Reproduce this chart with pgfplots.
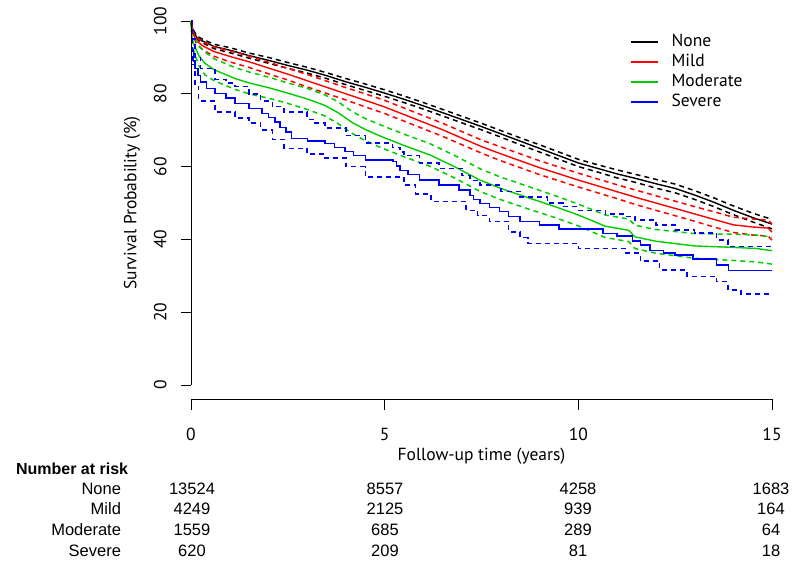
\documentclass[border=0pt]{standalone}
\usepackage{pgfplots}
\pgfplotsset{compat=1.18}
\usepackage{fontspec}
\setmainfont{PT Sans}
\newfontfamily\tabfont{Liberation Sans}
\definecolor{rred}{HTML}{FF0000}
\definecolor{rgreen}{HTML}{00CD00}
\definecolor{rblue}{HTML}{0000FF}

\begin{document}
\fontsize{17.5bp}{21bp}\selectfont
\begin{tikzpicture}
\path[use as bounding box] (0,0) rectangle (800bp,566bp);
\begin{axis}[
  at={(191bp,166.5bp)}, anchor=south west,
  scale only axis, width=581bp, height=393bp,
  xmin=0, xmax=15, ymin=-4, ymax=104,
  clip=false,
  axis line style={draw=none},
  tick pos=left, tick align=outside,
  major tick length=10.5bp,
  tick style={black, line width=0.8bp},
  xtick={0,5,10,15}, ytick={0,20,...,100},
  /pgf/number format/assume math mode=true,
  xticklabel shift=12bp,
  yticklabel style={rotate=90, anchor=south},
  yticklabel shift=8bp,
  xlabel={Follow-up time (years)},
  ylabel={Survival Probability (\%)},
  xlabel style={at={(axis description cs:0.5,-0.145)}, anchor=center},
  ylabel style={at={(axis description cs:-0.1015,0.5)}, anchor=center},
  legend cell align=left,
  legend style={draw=none, fill=none, inner sep=0pt,
    at={(axis description cs:0.7556,0.934)}, anchor=north west,
    nodes={inner sep=2bp, text height=12bp, text depth=3bp},
    row sep=1bp,
    /tikz/every odd column/.append style={column sep=11bp}},
  legend image code/.code={\draw[#1] (0bp,0bp) -- (27bp,0bp);},
  every axis plot/.append style={line width=1.4bp},
  ci/.style={dash pattern=on 5bp off 4bp, line width=1.5bp},
]
\addlegendimage{black, line width=1.4bp}
\addlegendentry{None}
\addlegendimage{rred, line width=1.4bp}
\addlegendentry{Mild}
\addlegendimage{rgreen, line width=1.4bp}
\addlegendentry{Moderate}
\addlegendimage{rblue, line width=1.4bp}
\addlegendentry{Severe}

% None
\addplot[black, forget plot] coordinates {
(0,100)(0.05,97.5)(0.15,95.5)(0.3,94.5)(0.6,93)(1,92)(1.5,90.5)(2,89.2)(2.5,87.8)(3,86.5)(3.5,85)(4,83.3)(4.5,81.8)(5,80.2)(5.5,78.5)(6,76.7)(6.5,74.8)(7,72.9)(7.5,71)(8,69)(8.5,67)(9,65)(9.5,63)(10,61)(10.5,59.5)(11,58)(11.5,56.7)(12,55.3)(12.5,54)(13,52.2)(13.5,50.2)(14,48)(14.5,46)(15,44.2)};
\addplot[black, ci, forget plot] coordinates {
(0,100)(0.05,97.8)(0.15,95.9)(0.3,95)(0.6,93.6)(1,92.7)(1.5,91.2)(2,90)(2.5,88.6)(3,87.3)(3.5,85.8)(4,84.2)(4.5,82.7)(5,81.1)(5.5,79.4)(6,77.6)(6.5,75.7)(7,73.8)(7.5,71.9)(8,69.9)(8.5,67.9)(9,66)(9.5,64)(10,62)(10.5,60.5)(11,59.1)(11.5,57.8)(12,56.5)(12.5,55.2)(13,53.4)(13.5,51.4)(14,49.2)(14.5,47.2)(15,45.5)};
\addplot[black, ci, forget plot] coordinates {
(0,100)(0.05,97.2)(0.15,95.1)(0.3,94)(0.6,92.4)(1,91.3)(1.5,89.8)(2,88.4)(2.5,87)(3,85.7)(3.5,84.2)(4,82.5)(4.5,80.9)(5,79.3)(5.5,77.6)(6,75.8)(6.5,73.9)(7,72)(7.5,70.1)(8,68.1)(8.5,66)(9,64)(9.5,62)(10,60)(10.5,58.5)(11,56.9)(11.5,55.6)(12,54.1)(12.5,52.8)(13,51)(13.5,49)(14,46.8)(14.5,44.8)(15,42.9)};

% Mild
\addplot[rred, forget plot] coordinates {
(0,100)(0.05,96.5)(0.15,94.5)(0.3,93.2)(0.6,91.6)(1,90.3)(1.5,88.8)(2,87.1)(2.5,85.4)(3,83.6)(3.5,81.8)(4,80)(4.5,78.2)(5,76.4)(5.5,74.3)(6,72.2)(6.5,70.1)(7,67.8)(7.5,65.5)(8,63.5)(8.5,61.6)(9,59.7)(9.5,58)(10,56.3)(10.5,54.7)(11,53.1)(11.5,51.5)(12,50)(12.5,48.5)(13,47)(13.5,45.5)(14,44)(14.5,43.4)(14.9,43.1)(15,42)};
\addplot[rred, ci, forget plot] coordinates {
(0,100)(0.05,97.1)(0.15,95.4)(0.3,94.3)(0.6,92.9)(1,91.8)(1.5,90.35)(2,88.7)(2.5,87)(3,85.3)(3.5,83.5)(4,81.7)(4.5,80)(5,78.2)(5.5,76.1)(6,74)(6.5,71.9)(7,69.6)(7.5,67.3)(8,65.4)(8.5,63.5)(9,61.6)(9.5,59.9)(10,58.2)(10.5,56.6)(11,55)(11.5,53.5)(12,52)(12.5,50.5)(13,49)(13.5,47.6)(14,46.1)(14.5,45.6)(14.9,45.3)(15,44.2)};
\addplot[rred, ci, forget plot] coordinates {
(0,100)(0.05,95.9)(0.15,93.6)(0.3,92.1)(0.6,90.3)(1,88.8)(1.5,87.25)(2,85.5)(2.5,83.8)(3,81.9)(3.5,80.1)(4,78.3)(4.5,76.4)(5,74.6)(5.5,72.5)(6,70.4)(6.5,68.3)(7,66)(7.5,63.7)(8,61.6)(8.5,59.7)(9,57.8)(9.5,56.1)(10,54.4)(10.5,52.8)(11,51.2)(11.5,49.5)(12,48)(12.5,46.5)(13,45)(13.5,43.4)(14,41.9)(14.5,41.2)(14.9,40.9)(15,39.8)};

% Moderate
\addplot[rgreen, forget plot] coordinates {
(0,100)(0.03,95)(0.1,93)(0.2,90.5)(0.36,88.4)(0.6,86.6)(1.14,84.2)(1.5,83)(2,81.7)(2.43,80.4)(3,78.6)(3.46,76.8)(3.8,74.8)(4.15,72.2)(4.5,70.2)(4.93,68.2)(5.5,65.8)(6.17,63.2)(6.8,60)(7.46,56.3)(8,54)(8.75,51.3)(9.4,49)(10,46.7)(10.7,43.6)(11.3,42.5)(11.46,40.7)(12,39.5)(13,38.2)(14,37.8)(14.6,37.5)(15,36.9)};
\addplot[rgreen, ci, forget plot] coordinates {
(0,100)(0.03,96.5)(0.1,95.2)(0.2,93.2)(0.36,91.5)(0.6,89.6)(1.14,87.2)(1.5,86)(2,84.6)(2.43,83.2)(3,81.5)(3.46,79.7)(3.8,77.8)(4.15,75.2)(4.5,73.2)(4.93,71.3)(5.5,68.9)(6.17,66.3)(6.8,63.1)(7.46,59.4)(8,57.1)(8.75,54.4)(9.4,52)(10,49.7)(10.7,46.7)(11.3,45.6)(11.46,43.9)(12,42.7)(13,41.6)(14,41.4)(14.6,41.2)(15,40.6)};
\addplot[rgreen, ci, forget plot] coordinates {
(0,100)(0.03,93.5)(0.1,90.8)(0.2,87.8)(0.36,85.2)(0.6,83.6)(1.14,81.2)(1.5,80)(2,78.8)(2.43,77.6)(3,75.7)(3.46,73.9)(3.8,71.8)(4.15,69.2)(4.5,67.1)(4.93,65.1)(5.5,62.7)(6.17,60.1)(6.8,56.9)(7.46,53.2)(8,50.9)(8.75,48.2)(9.4,46)(10,43.7)(10.7,40.5)(11.3,39.4)(11.46,37.5)(12,36.2)(13,34.8)(14,34.2)(14.6,33.8)(15,33.2)};

% Severe
\addplot[rblue, const plot, forget plot] coordinates {
(0,100)(0.02,92)(0.06,89)(0.1,87)(0.18,85)(0.25,83.3)(0.4,81.5)(0.62,80.1)(0.9,78.8)(1.14,77.4)(1.5,76)(1.83,74.6)(2,73.5)(2.17,72.3)(2.3,70.8)(2.45,69.5)(2.6,67.8)(3,67)(3.46,66.4)(3.7,65.2)(3.98,64.1)(4.2,63)(4.5,61.8)(5.22,61.4)(5.3,60.2)(5.4,59)(5.6,57.8)(5.9,56.3)(6.4,54.9)(6.92,53.6)(7.2,52)(7.3,51)(7.46,49.9)(7.7,48.8)(7.97,47.6)(8.2,46.3)(8.49,44.9)(9,44)(9.5,42.8)(10.64,41.7)(11,40.9)(11.4,39.6)(11.6,38.5)(11.85,37)(12.2,36.3)(12.5,35.7)(12.96,34.6)(13.57,33)(13.87,31.4)(15,31.4)};
\addplot[rblue, ci, const plot, forget plot] coordinates {
(0,100)(0.02,95)(0.1,90)(0.25,87)(0.62,84)(0.9,83)(1.14,82)(1.5,80)(1.8,78)(2.1,76.5)(2.4,75)(3,73)(3.2,72)(3.46,70.6)(4,68.5)(4.5,66.5)(5.2,65.3)(5.4,64)(5.5,63)(5.9,61)(6.4,59.5)(7,57.5)(7.2,56.2)(7.46,55)(8,53.2)(8.5,51.7)(9.2,50)(9.6,49)(10,48)(10.7,47)(11.2,46.3)(11.46,45.3)(12,44)(12.5,42.6)(13,41.8)(13.57,39.8)(13.87,38)(15,38)};
\addplot[rblue, ci, const plot, forget plot] coordinates {
(0,100)(0.02,88)(0.1,82)(0.2,78)(0.62,75)(1.14,73.3)(1.5,72)(1.8,70)(2.1,67.5)(2.4,65)(3,63.5)(3.46,62.3)(4,60)(4.5,57.2)(5.5,55)(5.8,52.5)(6.2,50.4)(7.1,48)(7.4,46.5)(7.7,44.9)(8.2,42)(8.5,40.5)(8.7,38.9)(10,37.5)(11.2,36.2)(11.6,34)(12.1,31.6)(12.8,29.8)(13.57,28.4)(13.87,26.1)(14.2,25)(15,25)};

% R-style detached axis lines
\draw[black, line width=1bp] (axis cs:0,0) -- (axis cs:0,100);
\draw[black, line width=1bp] (axis cs:0,-4) -- (axis cs:15,-4);
\end{axis}

% number at risk table
\begin{scope}[font=\tabfont\fontsize{16.5bp}{20bp}\selectfont]
\node[anchor=mid west, font=\tabfont\bfseries\fontsize{16bp}{20bp}\selectfont] at (10bp,96bp) {Number at risk};
\foreach \nm/\a/\b/\c/\d/\y in {None/13524/8557/4258/1683/76,
    Mild/4249/2125/939/164/56, Moderate/1559/685/289/64/35, Severe/620/209/81/18/14} {
  \node[anchor=mid east] at (127bp,\y bp) {\nm};
  \node[anchor=mid] at (192bp,\y bp) {\a};
  \node[anchor=mid] at (385bp,\y bp) {\b};
  \node[anchor=mid] at (578bp,\y bp) {\c};
  \node[anchor=mid] at (771bp,\y bp) {\d};
}
\end{scope}
\end{tikzpicture}
\end{document}
